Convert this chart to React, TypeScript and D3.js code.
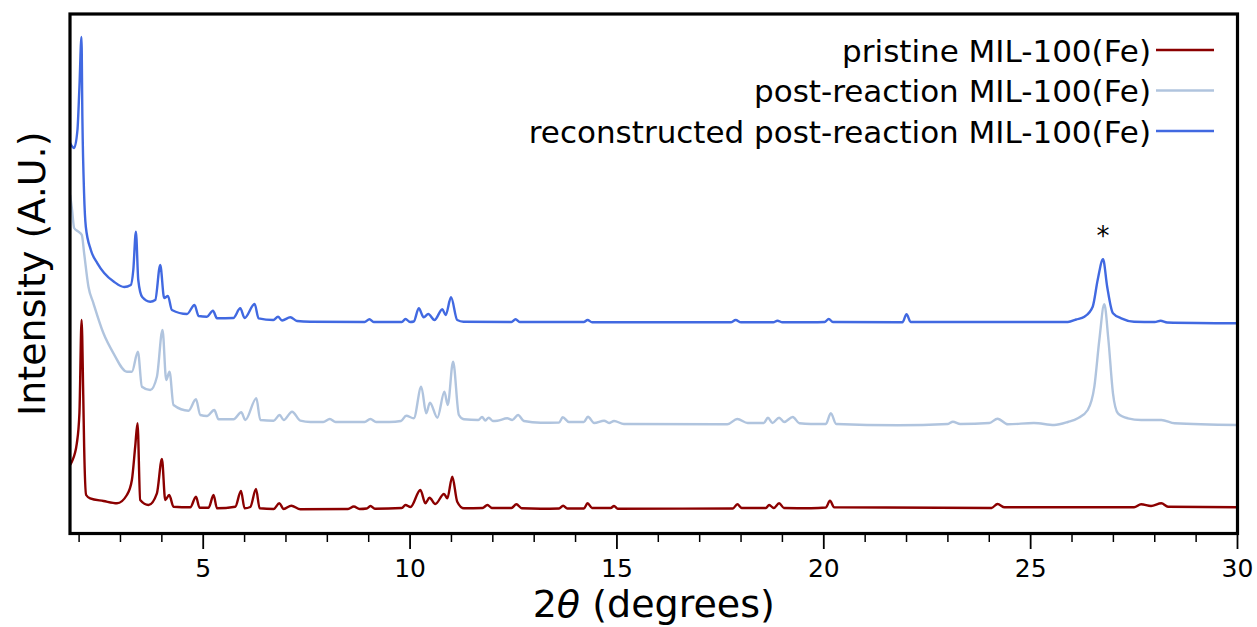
import React from "react";
import * as d3 from "d3";

// 2θ (degrees), intensity (A.U., offset stacked)
const pristine: [number, number][] = [
  [1.783, 70], [1.824, 73.3], [1.945, 91.7], [2.008, 122], [2.06, 215], [2.10, 140], [2.122, 88.3],
  [2.17, 40], [2.267, 36.7], [2.589, 34], [2.916, 31.7], [3.155, 40], [3.276, 55], [3.356, 88.3],
  [3.412, 111.7], [3.477, 35], [3.678, 30], [3.881, 41.7], [4.002, 76], [4.082, 35], [4.178, 40],
  [4.282, 28.3], [4.687, 27.7], [4.825, 38.3], [4.912, 27.3], [5.13, 27.3], [5.25, 40], [5.333, 26.7],
  [5.775, 28.3], [5.913, 44], [6.0, 26.7], [6.138, 28], [6.276, 46], [6.364, 26.7], [6.702, 26],
  [6.84, 31.7], [6.944, 26], [7.13, 29.3], [7.348, 25.7], [8.5, 26], [8.64, 28.5], [8.78, 26],
  [8.95, 26.5], [9.042, 29], [9.15, 26.3], [9.8, 27], [9.889, 30], [10.01, 28], [10.25, 45], [10.37, 31.7],
  [10.47, 37.3], [10.61, 31], [10.82, 41], [10.9, 36.7], [11.02, 58.3], [11.14, 33.3], [11.3, 26.7],
  [11.75, 27], [11.87, 30], [11.98, 27], [12.45, 27], [12.57, 30.7], [12.7, 26.7], [13.16, 26.3],
  [13.6, 26.5], [13.7, 29.3], [13.8, 26.5], [14.2, 26.5], [14.29, 31.7], [14.4, 27], [14.85, 27],
  [14.93, 29], [15.02, 26.3], [17.8, 26.5], [17.91, 30.7], [18.02, 27], [18.6, 27], [18.68, 30],
  [18.79, 27], [18.92, 31.7], [19.04, 27], [19.69, 26.7], [20.05, 27.5], [20.15, 34.3], [20.25, 27.7],
  [24.05, 27], [24.2, 31], [24.37, 27.7], [27.5, 27.7], [27.67, 30.7], [27.91, 29], [28.16, 31.7],
  [28.32, 28.3], [30.0, 27.7],
];

const postReaction: [number, number][] = [
  [1.783, 340], [1.83, 325], [1.88, 307], [1.984, 303.3], [2.066, 300], [2.122, 281.7], [2.226, 248.3],
  [2.347, 231.7], [2.589, 201.7], [2.831, 181.7], [3.155, 163.3], [3.276, 163.3], [3.421, 183.3],
  [3.518, 148.3], [3.719, 145], [3.881, 158.3], [4.016, 205], [4.106, 155], [4.186, 163.3], [4.282, 130],
  [4.645, 124.3], [4.825, 135.7], [4.929, 120], [5.091, 119], [5.267, 125], [5.371, 115.7], [5.734, 115.7],
  [5.92, 122.7], [6.017, 115], [6.284, 136.7], [6.38, 115], [6.702, 114.3], [6.847, 120], [6.944, 115],
  [7.147, 123.3], [7.348, 114.3], [7.59, 113], [7.9, 113], [8.06, 116], [8.2, 113], [8.9, 113],
  [9.04, 116], [9.18, 113], [9.5, 113], [9.78, 114], [9.906, 119.3], [10.09, 116.7], [10.27, 148.3],
  [10.39, 121.7], [10.48, 132.3], [10.66, 117.3], [10.83, 143.3], [10.91, 130], [11.04, 173.3],
  [11.18, 120], [11.3, 115.7], [11.65, 115], [11.74, 118], [11.82, 114.5], [11.9, 117.3], [12.0, 114],
  [12.11, 114.3], [12.35, 116.7], [12.47, 115], [12.61, 120], [12.75, 114], [13.16, 112.3], [13.6, 112.5],
  [13.69, 117.7], [13.84, 113], [14.2, 113], [14.3, 118.3], [14.45, 112], [14.69, 114.3], [14.81, 112],
  [14.93, 114], [15.17, 111], [17.67, 110.7], [17.91, 116], [18.16, 112], [18.55, 112], [18.65, 117.3],
  [18.76, 112], [18.92, 117.3], [19.04, 113], [19.25, 118], [19.41, 111.7], [19.69, 111], [20.05, 111],
  [20.17, 121.7], [20.3, 111], [21.79, 109.7], [23.0, 111], [23.12, 113.3], [23.3, 111], [24.0, 112],
  [24.2, 116.3], [24.45, 110.7], [25.08, 112], [25.57, 110], [25.9, 113], [26.14, 116.7], [26.38, 125],
  [26.54, 148.3], [26.66, 195], [26.78, 230.7], [26.88, 195], [26.99, 141.7], [27.11, 121.7], [27.35, 116.7],
  [27.67, 115], [28.16, 115], [28.48, 111.7], [30.0, 110],
];

const reconstructed: [number, number][] = [
  [1.783, 392], [1.88, 387], [1.96, 405], [2.008, 448], [2.057, 498], [2.08, 415], [2.12, 342],
  [2.163, 308], [2.284, 285], [2.443, 271.7], [2.606, 262], [2.85, 253], [3.09, 248], [3.25, 250],
  [3.31, 265], [3.373, 303.3], [3.43, 255], [3.525, 238], [3.719, 233.3], [3.84, 235], [3.961, 270],
  [4.057, 237], [4.147, 239], [4.243, 225], [4.607, 221], [4.79, 230], [4.888, 219], [5.091, 218.3],
  [5.236, 224.3], [5.333, 216.7], [5.727, 217], [5.896, 226.7], [6.0, 217], [6.242, 231], [6.339, 216.7],
  [6.695, 215], [6.808, 218.3], [6.905, 214.5], [7.106, 217.7], [7.268, 214], [7.59, 213.3], [8.9, 213],
  [9.018, 215.7], [9.12, 213], [9.8, 213], [9.889, 216], [10.0, 213], [10.09, 213.5], [10.21, 226.7],
  [10.33, 217.7], [10.44, 221], [10.59, 215], [10.78, 225.7], [10.86, 220], [10.99, 237.7], [11.14, 215],
  [11.29, 213.3], [12.45, 213], [12.55, 215.7], [12.65, 213], [13.16, 213], [14.2, 213], [14.29, 215],
  [14.4, 212.7], [17.75, 212.7], [17.87, 215], [18.0, 212.7], [18.78, 212.7], [18.88, 214.3], [19.0, 212.7],
  [19.69, 212.7], [20.02, 213], [20.12, 216], [20.22, 213], [21.9, 212.7], [22.0, 220.7], [22.1, 213],
  [25.9, 213], [26.1, 215.5], [26.3, 218.3], [26.5, 228.3], [26.62, 255], [26.75, 275.7], [26.85, 248.3],
  [26.99, 221.7], [27.19, 216.7], [27.5, 213.3], [28.0, 213], [28.14, 214.3], [28.3, 212.5], [30.0, 211.7],
];

const seriesNames = [
  "pristine MIL-100(Fe)",
  "post-reaction MIL-100(Fe)",
  "reconstructed post-reaction MIL-100(Fe)",
];
const seriesColors = ["#8b0000", "#b0c4de", "#4169e1"];
const seriesData = [pristine, postReaction, reconstructed];

const majorTicks = [5, 10, 15, 20, 25, 30];
const minorTicks = d3.range(2, 30).filter((d) => d % 5 !== 0);
const markerX = 26.75;
const markerY = 275.7;

export default function App() {
  const W = 1257, H = 627;
  const left = 70, right = 1237.5, top = 14, bottom = 533.5;
  const x = d3.scaleLinear().domain([1.78, 30]).range([left, right]);
  const y = d3.scaleLinear().domain([1.5, 521]).range([bottom, top]);
  const line = d3
    .line<[number, number]>()
    .x((d) => x(d[0]))
    .y((d) => y(d[1]))
    .curve(d3.curveMonotoneX);
  const font = "DejaVu Sans, sans-serif";

  return (
    <svg width={W} height={H} style={{ position: "absolute", left: 0, top: 0, background: "#fff" }} fontFamily={font}>
      <defs>
        <clipPath id="plotclip">
          <rect x={left} y={top} width={right - left} height={bottom - top} />
        </clipPath>
      </defs>
      <g clipPath="url(#plotclip)">
        {seriesData.map((s, i) => (
          <path key={i} d={line(s) || ""} fill="none" stroke={seriesColors[i]} strokeWidth={2.4} strokeLinejoin="round" />
        ))}
      </g>
      <text x={x(markerX)} y={y(markerY) - 14} textAnchor="middle" fontSize={26} fill="#000">*</text>
      {/* legend */}
      {seriesNames.map((n, i) => (
        <g key={n}>
          <text x={1151} y={61.5 + i * 40.5} textAnchor="end" fontSize={31} fill="#000">{n}</text>
          <line x1={1156} x2={1214} y1={50 + i * 40.5} y2={50 + i * 40.5} stroke={seriesColors[i]} strokeWidth={2.5} />
        </g>
      ))}
      {/* frame */}
      <rect x={left} y={top} width={right - left} height={bottom - top} fill="none" stroke="#000" strokeWidth={3.2} />
      {/* ticks */}
      {majorTicks.map((t) => (
        <g key={"M" + t}>
          <line x1={x(t)} x2={x(t)} y1={bottom} y2={549} stroke="#000" strokeWidth={1.8} />
          <text x={x(t)} y={577} textAnchor="middle" fontSize={25} fill="#000">{t}</text>
        </g>
      ))}
      {minorTicks.map((t) => (
        <line key={"m" + t} x1={x(t)} x2={x(t)} y1={bottom} y2={542} stroke="#000" strokeWidth={1.5} />
      ))}
      {/* axis titles */}
      <text x={(left + right) / 2} y={617} textAnchor="middle" fontSize={38} fill="#000">
        2<tspan fontStyle="italic">θ</tspan> (degrees)
      </text>
      <text transform={`translate(45, ${(top + bottom) / 2}) rotate(-90)`} textAnchor="middle" fontSize={38} fill="#000">
        Intensity (A.U.)
      </text>
    </svg>
  );
}
